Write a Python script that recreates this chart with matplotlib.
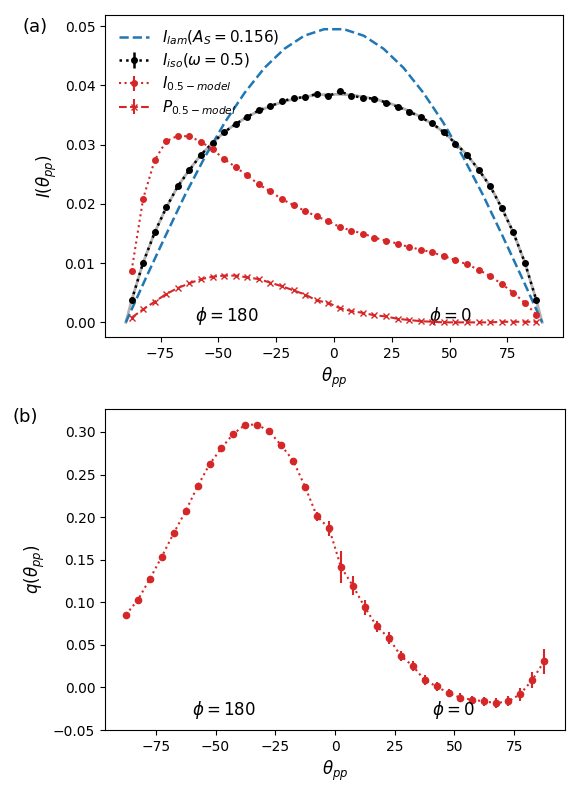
import matplotlib
matplotlib.use("Agg")
import matplotlib.pyplot as plt
import numpy as np

# ---------------- data ----------------
theta = [-87.5, -82.5, -77.5, -72.5, -67.5, -62.5, -57.5, -52.5, -47.5, -42.5,
         -37.5, -32.5, -27.5, -22.5, -17.5, -12.5, -7.5, -2.5,
         2.5, 7.5, 12.5, 17.5, 22.5, 27.5, 32.5, 37.5, 42.5, 47.5,
         52.5, 57.5, 62.5, 67.5, 72.5, 77.5, 82.5, 87.5]

# Lambertian curve (A_S = 0.156)
theta_lam = [-90.0, -81.43, -72.86, -64.29, -55.71, -47.14, -38.57, -30.0, -21.43, -12.86, -4.29,
             4.29, 12.86, 21.43, 30.0, 38.57, 47.14, 55.71, 64.29, 72.86, 81.43, 90.0]
I_lam = [0.0, 0.0074, 0.0146, 0.0216, 0.0280, 0.0338, 0.0388, 0.0430, 0.0462, 0.0484, 0.0495,
         0.0495, 0.0484, 0.0462, 0.0430, 0.0388, 0.0338, 0.0280, 0.0216, 0.0146, 0.0074, 0.0]

# isotropic (omega = 0.5), measured points
I_iso = [0.0037, 0.0101, 0.0152, 0.0194, 0.0230, 0.0257, 0.0283, 0.0303, 0.0321, 0.0335,
         0.0347, 0.0358, 0.0365, 0.0373, 0.0379, 0.0380, 0.0386, 0.0382,
         0.0390, 0.0383, 0.0379, 0.0378, 0.0371, 0.0364, 0.0356, 0.0346, 0.0336, 0.0321,
         0.0302, 0.0283, 0.0258, 0.0230, 0.0193, 0.0152, 0.0101, 0.0037]
I_iso_err = [0.0002] * 36

# isotropic analytic curve (grey)
theta_iso_curve = [-90.0] + theta + [90.0]
I_iso_curve = [0.0, 0.0037, 0.0101, 0.0152, 0.0194, 0.0230, 0.0258, 0.0283, 0.0303, 0.0321, 0.0335,
               0.0347, 0.0357, 0.0365, 0.0372, 0.0377, 0.0381, 0.0384, 0.0385,
               0.0385, 0.0384, 0.0381, 0.0377, 0.0372, 0.0365, 0.0357, 0.0347, 0.0335, 0.0321,
               0.0303, 0.0283, 0.0258, 0.0230, 0.0194, 0.0152, 0.0101, 0.0037, 0.0]

# 0.5-model intensity
I_mod = [0.0087, 0.0209, 0.0274, 0.0306, 0.0315, 0.0314, 0.0305, 0.0292, 0.0276, 0.0262,
         0.0248, 0.0233, 0.0221, 0.0208, 0.0198, 0.0188, 0.0179, 0.0171,
         0.0161, 0.0155, 0.0150, 0.0143, 0.0138, 0.0133, 0.0127, 0.0123, 0.0118, 0.0112,
         0.0105, 0.0098, 0.0089, 0.0078, 0.0065, 0.0050, 0.0033, 0.0013]
I_mod_err = [0.0002] * 36

# 0.5-model polarized intensity
P_mod = [0.0008, 0.0022, 0.0035, 0.0048, 0.0058, 0.0066, 0.0073, 0.0077, 0.0079, 0.0079,
         0.0076, 0.0073, 0.0067, 0.0061, 0.0054, 0.0047, 0.0037, 0.0033,
         0.0024, 0.0019, 0.0016, 0.0012, 0.0010, 0.0006, 0.0004, 0.0002, 0.0001, 0.0000,
         0.0000, 0.0000, 0.0000, 0.0000, 0.0001, 0.0001, 0.0001, 0.0001]
P_mod_err = [0.0001] * 36

# polarization fraction q
q = [0.0855, 0.1027, 0.1273, 0.1535, 0.1812, 0.2070, 0.2363, 0.2621, 0.2812, 0.2980,
     0.3086, 0.3086, 0.3007, 0.2843, 0.2664, 0.2355, 0.2008, 0.1870,
     0.1415, 0.1193, 0.0940, 0.0716, 0.0582, 0.0371, 0.0254, 0.0086, 0.0012, -0.0067,
     -0.0121, -0.0145, -0.0164, -0.0184, -0.0164, -0.0079, 0.0086, 0.0305]
q_err = [0.002, 0.002, 0.002, 0.002, 0.002, 0.002, 0.002, 0.002, 0.002, 0.002,
         0.002, 0.002, 0.002, 0.003, 0.003, 0.004, 0.005, 0.009,
         0.019, 0.011, 0.0088, 0.007, 0.007, 0.006, 0.006, 0.006, 0.005, 0.005,
         0.005, 0.005, 0.005, 0.006, 0.006, 0.0075, 0.0095, 0.0146]

# ---------------- plot ----------------
red = '#d62728'
blue = '#1f77b4'

fig = plt.figure(figsize=(5.8, 8.0), dpi=100)
ax1 = fig.add_axes([105/580, 1-337/800, (563-105)/580, (337-15)/800])
ax2 = fig.add_axes([105/580, 1-730/800, (565-105)/580, (730-409)/800])

ax1.plot(theta_iso_curve, I_iso_curve, '-', color='grey', lw=2, alpha=0.6, zorder=1)
ax1.plot(theta_lam, I_lam, '--', color=blue, lw=1.8, label=r'$I_{lam}(A_S=0.156)$', zorder=3)
ax1.errorbar(theta, I_iso, yerr=I_iso_err, fmt='o:', color='k', ms=4, lw=1.8,
             label=r'$I_{iso}(\omega=0.5)$', zorder=4)
ax1.errorbar(theta, I_mod, yerr=I_mod_err, fmt='o:', color=red, ms=4, lw=1.5,
             label=r'$I_{0.5-model}$', zorder=4)
ax1.errorbar(theta, P_mod, yerr=P_mod_err, fmt='x--', color=red, ms=5, lw=1.5,
             label=r'$P_{0.5-model}$', zorder=4)

ax1.set_xlim(-99, 99)
ax1.set_ylim(-0.00247, 0.0519)
ax1.set_xticks([-75, -50, -25, 0, 25, 50, 75])
ax1.set_yticks([0.0, 0.01, 0.02, 0.03, 0.04, 0.05])
ax1.set_xlabel(r'$\theta_{pp}$', fontsize=12)
ax1.set_ylabel(r'$I(\theta_{pp})$', fontsize=12)
ax1.text(-60, 0.0003, r'$\phi=180$', fontsize=12)
ax1.text(41, 0.0003, r'$\phi=0$', fontsize=12)
ax1.legend(loc='upper left', frameon=False, fontsize=11, labelspacing=0.3)

ax2.errorbar(theta, q, yerr=q_err, fmt='o:', color=red, ms=4.5, lw=1.5)
ax2.set_xlim(-96.25, 96.25)
ax2.set_ylim(-0.05, 0.327)
ax2.set_xticks([-75, -50, -25, 0, 25, 50, 75])
ax2.set_yticks([-0.05, 0.0, 0.05, 0.10, 0.15, 0.20, 0.25, 0.30])
ax2.set_xlabel(r'$\theta_{pp}$', fontsize=12)
ax2.set_ylabel(r'$q(\theta_{pp})$', fontsize=12)
ax2.text(-60, -0.0326, r'$\phi=180$', fontsize=12)
ax2.text(40.5, -0.0326, r'$\phi=0$', fontsize=12)

fig.text(23/580, 1-27/800, '(a)', fontsize=13, va='center', ha='left')
fig.text(13/580, 1-417/800, '(b)', fontsize=13, va='center', ha='left')

fig.savefig('out.png', dpi=100)
